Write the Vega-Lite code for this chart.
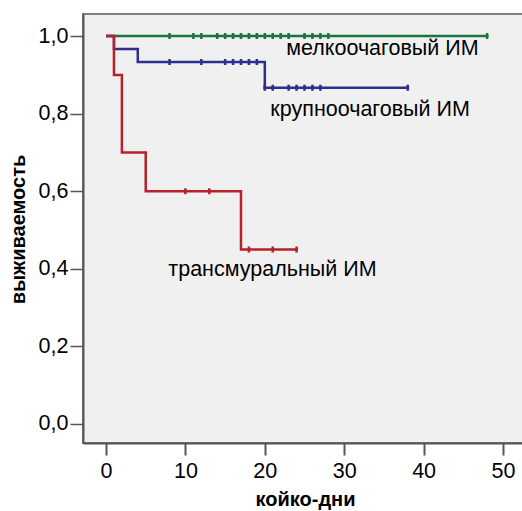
{
  "$schema": "https://vega.github.io/schema/vega-lite/v6.json",
  "autosize": "none",
  "width": 445,
  "height": 429,
  "padding": {"left": 83, "top": 14, "right": 0, "bottom": 68},
  "background": "white",
  "config": {
    "view": {"fill": "#f0f0f0", "stroke": "#7f7f7f", "strokeWidth": 2},
    "font": "Liberation Sans"
  },
  "datasets": {
    "curves": [
      {"group": "мелкоочаговый ИМ", "day": 0, "surv": 1.0},
      {"group": "мелкоочаговый ИМ", "day": 48, "surv": 1.0},
      {"group": "крупноочаговый ИМ", "day": 0, "surv": 1.0},
      {"group": "крупноочаговый ИМ", "day": 1, "surv": 0.967},
      {"group": "крупноочаговый ИМ", "day": 4, "surv": 0.933},
      {"group": "крупноочаговый ИМ", "day": 20, "surv": 0.867},
      {"group": "крупноочаговый ИМ", "day": 38, "surv": 0.867},
      {"group": "трансмуральный ИМ", "day": 0, "surv": 1.0},
      {"group": "трансмуральный ИМ", "day": 1, "surv": 0.9},
      {"group": "трансмуральный ИМ", "day": 2, "surv": 0.7},
      {"group": "трансмуральный ИМ", "day": 5, "surv": 0.6},
      {"group": "трансмуральный ИМ", "day": 17, "surv": 0.45},
      {"group": "трансмуральный ИМ", "day": 24, "surv": 0.45}
    ],
    "censor": [
      {"group": "мелкоочаговый ИМ", "day": 8, "surv": 1.0},
      {"group": "мелкоочаговый ИМ", "day": 11, "surv": 1.0},
      {"group": "мелкоочаговый ИМ", "day": 12, "surv": 1.0},
      {"group": "мелкоочаговый ИМ", "day": 14, "surv": 1.0},
      {"group": "мелкоочаговый ИМ", "day": 15, "surv": 1.0},
      {"group": "мелкоочаговый ИМ", "day": 16, "surv": 1.0},
      {"group": "мелкоочаговый ИМ", "day": 17, "surv": 1.0},
      {"group": "мелкоочаговый ИМ", "day": 18, "surv": 1.0},
      {"group": "мелкоочаговый ИМ", "day": 19, "surv": 1.0},
      {"group": "мелкоочаговый ИМ", "day": 20, "surv": 1.0},
      {"group": "мелкоочаговый ИМ", "day": 21, "surv": 1.0},
      {"group": "мелкоочаговый ИМ", "day": 22, "surv": 1.0},
      {"group": "мелкоочаговый ИМ", "day": 23, "surv": 1.0},
      {"group": "мелкоочаговый ИМ", "day": 25, "surv": 1.0},
      {"group": "мелкоочаговый ИМ", "day": 26, "surv": 1.0},
      {"group": "мелкоочаговый ИМ", "day": 27, "surv": 1.0},
      {"group": "мелкоочаговый ИМ", "day": 28, "surv": 1.0},
      {"group": "мелкоочаговый ИМ", "day": 48, "surv": 1.0},
      {"group": "крупноочаговый ИМ", "day": 8, "surv": 0.933},
      {"group": "крупноочаговый ИМ", "day": 12, "surv": 0.933},
      {"group": "крупноочаговый ИМ", "day": 15, "surv": 0.933},
      {"group": "крупноочаговый ИМ", "day": 16, "surv": 0.933},
      {"group": "крупноочаговый ИМ", "day": 17, "surv": 0.933},
      {"group": "крупноочаговый ИМ", "day": 18, "surv": 0.933},
      {"group": "крупноочаговый ИМ", "day": 19, "surv": 0.933},
      {"group": "крупноочаговый ИМ", "day": 20, "surv": 0.867},
      {"group": "крупноочаговый ИМ", "day": 21, "surv": 0.867},
      {"group": "крупноочаговый ИМ", "day": 23, "surv": 0.867},
      {"group": "крупноочаговый ИМ", "day": 24, "surv": 0.867},
      {"group": "крупноочаговый ИМ", "day": 25, "surv": 0.867},
      {"group": "крупноочаговый ИМ", "day": 26, "surv": 0.867},
      {"group": "крупноочаговый ИМ", "day": 27, "surv": 0.867},
      {"group": "крупноочаговый ИМ", "day": 38, "surv": 0.867},
      {"group": "трансмуральный ИМ", "day": 10, "surv": 0.6},
      {"group": "трансмуральный ИМ", "day": 13, "surv": 0.6},
      {"group": "трансмуральный ИМ", "day": 18, "surv": 0.45},
      {"group": "трансмуральный ИМ", "day": 21, "surv": 0.45},
      {"group": "трансмуральный ИМ", "day": 24, "surv": 0.45}
    ],
    "labels": [
      {"group": "мелкоочаговый ИМ", "day": 22.7, "surv": 0.951},
      {"group": "крупноочаговый ИМ", "day": 20.7, "surv": 0.795},
      {"group": "трансмуральный ИМ", "day": 7.85, "surv": 0.382}
    ]
  },
  "encoding": {
    "x": {
      "field": "day", "type": "quantitative",
      "scale": {"domain": [-2.9, 53.15], "nice": false, "zero": false},
      "axis": {
        "values": [0, 10, 20, 30, 40, 50],
        "grid": false,
        "title": "койко-дни",
        "titleFontSize": 20, "titleFontWeight": "bold", "titleColor": "black",
        "titleBaseline": "alphabetic", "titleY": 62, "titleX": 222,
        "labelFontSize": 21.5, "labelColor": "black", "labelPadding": 5,
        "tickSize": 12, "tickColor": "#555555", "tickWidth": 2,
        "domainColor": "#555555", "domainWidth": 2, "labelFlush": false
      }
    },
    "y": {
      "field": "surv", "type": "quantitative",
      "scale": {"domain": [-0.049, 1.057], "nice": false, "zero": false},
      "axis": {
        "values": [0, 0.2, 0.4, 0.6, 0.8, 1.0],
        "labelExpr": "replace(format(datum.value, '.1f'), '.', ',')",
        "grid": false,
        "title": "выживаемость",
        "titleFontSize": 20, "titleFontWeight": "bold", "titleColor": "black",
        "titleAngle": 270, "titleAlign": "center", "titleBaseline": "middle",
        "titleX": -65, "titleY": 215,
        "labelFontSize": 21.5, "labelColor": "black", "labelPadding": 2,
        "tickSize": 13, "tickColor": "#555555", "tickWidth": 1.5,
        "domainColor": "#555555", "domainWidth": 2, "labelFlush": false
      }
    },
    "color": {
      "field": "group", "type": "nominal",
      "scale": {
        "domain": ["мелкоочаговый ИМ", "крупноочаговый ИМ", "трансмуральный ИМ"],
        "range": ["#1b7340", "#2d2f8f", "#b5222a"]
      },
      "legend": null
    }
  },
  "layer": [
    {
      "data": {"name": "curves"},
      "mark": {"type": "line", "interpolate": "step-after", "strokeWidth": 2.5}
    },
    {
      "data": {"name": "censor"},
      "mark": {"type": "point", "shape": "M0,-1L0,1M-0.5,0L0.5,0", "filled": false, "size": 36, "strokeWidth": 2.5, "opacity": 1}
    },
    {
      "data": {"name": "labels"},
      "mark": {"type": "text", "align": "left", "baseline": "alphabetic", "fontSize": 21.5, "color": "black"},
      "encoding": {
        "text": {"field": "group"},
        "color": {"value": "black"}
      }
    }
  ]
}
